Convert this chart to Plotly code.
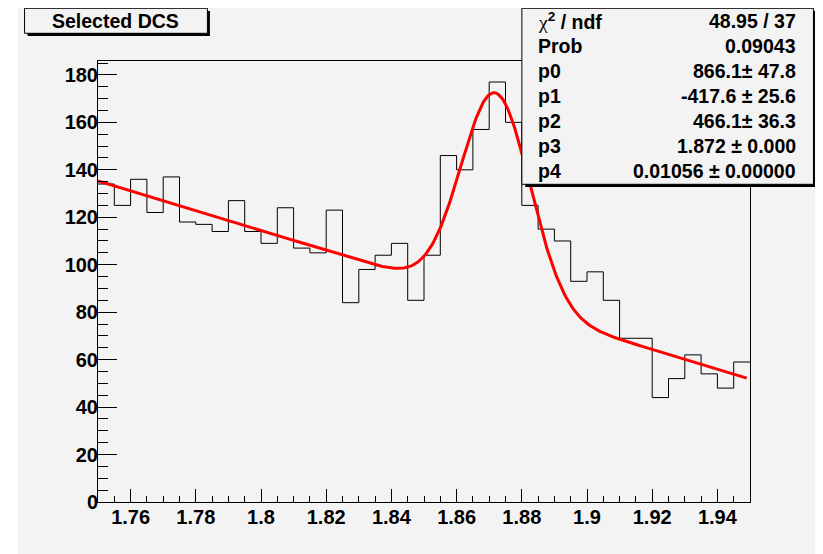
import numpy as np
import plotly.graph_objects as go

# ---- data ----
bin_low = 1.75
bin_width = 0.005
counts = [134, 125, 136, 122, 137, 118, 117, 114, 127, 114,
          109, 124, 107, 105, 123, 84, 98, 104, 109, 85,
          104, 146, 140, 157, 177, 160, 125, 115, 110, 93,
          97, 85, 69, 69, 44, 52, 62, 54, 48, 59]
x_ticks = [1.76, 1.78, 1.80, 1.82, 1.84, 1.86, 1.88, 1.90, 1.92, 1.94]
x_tick_text = ["1.76", "1.78", "1.8", "1.82", "1.84", "1.86", "1.88", "1.9", "1.92", "1.94"]
y_ticks = [0, 20, 40, 60, 80, 100, 120, 140, 160, 180]
y_tick_text = [str(v) for v in y_ticks]

# fit parameters (from the stats box)
p0, p1, p2, p3, p4 = 866.1, -417.6, 466.1, 1.872, 0.01056
fit_range = [1.75, 1.949]

stat_labels = ["<span style='font-family:Liberation Serif;font-weight:normal'>χ</span><sup>2</sup> / ndf",
               "Prob", "p0", "p1", "p2", "p3", "p4"]
stat_values = ["48.95 / 37", "0.09043", "866.1± 47.8", "-417.6 ± 25.6",
               "466.1± 36.3", "1.872 ± 0.000", "0.01056 ± 0.00000"]
title_text = "Selected DCS"

# ---- geometry (window pixels; the page body has an 8px margin) ----
OFF = 8
WIN_W, WIN_H = 823, 554
W, H = WIN_W - OFF, WIN_H - OFF
L, R, T, B = 97.5, 750, 61, 502   # plot frame in window pixels

def px(x):
    return (x - L) / (R - L)
def py(y):
    return (B - y) / (B - T)

edges = [bin_low + i * bin_width for i in range(len(counts) + 1)]
hx = edges
hy = counts + [counts[-1]]

xf = np.linspace(fit_range[0], fit_range[1], 500)
yf = p0 + p1 * xf + p2 * bin_width / (np.sqrt(2 * np.pi) * p4) * np.exp(-0.5 * ((xf - p3) / p4) ** 2)

FONT = "Liberation Sans, Arial, Helvetica, sans-serif"
GREY = "#f3f3f3"

fig = go.Figure()
fig.add_trace(go.Scatter(x=hx, y=hy, mode="lines", line=dict(color="black", width=1, shape="hv"),
                         hoverinfo="skip", showlegend=False))
fig.add_trace(go.Scatter(x=xf, y=yf, mode="lines", line=dict(color="#ff0000", width=3),
                         hoverinfo="skip", showlegend=False))

shapes = []
# grey canvas
shapes.append(dict(type="rect", xref="paper", yref="paper", x0=px(17), x1=px(WIN_W + 5), y0=py(5), y1=py(WIN_H + 5),
                   fillcolor=GREY, line=dict(width=0), layer="below"))
# title box with shadow
shapes.append(dict(type="rect", xref="paper", yref="paper", x0=px(27), x1=px(209.5), y0=py(11), y1=py(36),
                   fillcolor="black", line=dict(width=0), layer="above"))
shapes.append(dict(type="rect", xref="paper", yref="paper", x0=px(24), x1=px(207), y0=py(8.3), y1=py(33.3),
                   fillcolor=GREY, line=dict(color="black", width=1), layer="above"))
# stats box with shadow
shapes.append(dict(type="rect", xref="paper", yref="paper", x0=px(525), x1=px(816.5), y0=py(11), y1=py(187),
                   fillcolor="black", line=dict(width=0), layer="above"))
shapes.append(dict(type="rect", xref="paper", yref="paper", x0=px(521.7), x1=px(813.5), y0=py(8.3), y1=py(184.3),
                   fillcolor=GREY, line=dict(color="black", width=1), layer="above"))

annotations = [dict(xref="paper", yref="paper", x=px(115.5), y=py(20.8), text=title_text, showarrow=False,
                    xanchor="center", yanchor="middle",
                    font=dict(family=FONT, size=19.5, color="black", weight="bold"))]
for i, (lab, val) in enumerate(zip(stat_labels, stat_values)):
    yc = 21.5 + 24.95 * i
    annotations.append(dict(xref="paper", yref="paper", x=px(535.5), y=py(yc), text=lab, showarrow=False,
                            xanchor="left", yanchor="middle",
                            font=dict(family=FONT, size=19.5, color="black", weight="bold")))
    annotations.append(dict(xref="paper", yref="paper", x=px(798.5), y=py(yc), text=val, showarrow=False,
                            xanchor="right", yanchor="middle",
                            font=dict(family=FONT, size=19.5, color="black", weight="bold")))

fig.update_layout(
    width=W, height=H,
    margin=dict(l=L - OFF, r=WIN_W - R, t=T - OFF, b=WIN_H - B, pad=0),
    paper_bgcolor="white", plot_bgcolor="rgba(0,0,0,0)",
    shapes=shapes, annotations=annotations,
    showlegend=False,
    xaxis=dict(range=[1.75, 1.95], tickmode="array", tickvals=x_ticks, ticktext=x_tick_text,
               ticks="inside", ticklen=13, tickwidth=1, tickcolor="black",
               showline=True, linecolor="black", linewidth=1, mirror=True,
               showgrid=False, zeroline=False, automargin=False, ticklabelstandoff=-3,
               tickfont=dict(family=FONT, size=20, color="black", weight="bold"),
               minor=dict(tickmode="linear", tick0=1.75, dtick=0.005, ticks="inside", ticklen=6.5,
                          tickcolor="black", tickwidth=1, showgrid=False)),
    yaxis=dict(range=[0, 185.85], tickmode="array", tickvals=y_ticks, ticktext=y_tick_text,
               ticks="inside", ticklen=19, tickwidth=1, tickcolor="black",
               showline=True, linecolor="black", linewidth=1, mirror=True,
               showgrid=False, zeroline=False, automargin=False, ticklabelstandoff=-5,
               tickfont=dict(family=FONT, size=20, color="black", weight="bold"),
               minor=dict(tickmode="linear", tick0=0, dtick=5, ticks="inside", ticklen=9.5,
                          tickcolor="black", tickwidth=1, showgrid=False)),
)

fig.write_html("out.html")
